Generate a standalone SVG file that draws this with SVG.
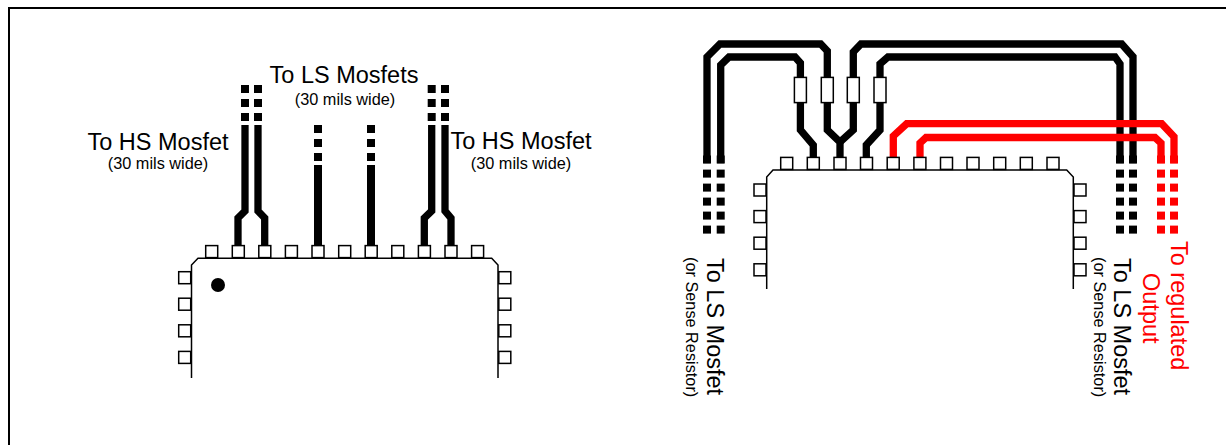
<svg xmlns="http://www.w3.org/2000/svg" width="1226" height="445" viewBox="0 0 1226 445">
<style>
text{font-family:"Liberation Sans",Arial,sans-serif;fill:#000}
.big{font-size:23.5px}
.small{font-size:16.3px}
.mid{text-anchor:middle}
.red{fill:#f00}
.pad{fill:#fff;stroke:#000;stroke-width:1.5}
.body{fill:none;stroke:#000;stroke-width:1.5}
.tr{fill:none;stroke:#000;stroke-width:7.3}
.rd{fill:none;stroke:#f00;stroke-width:7.3}
.res{fill:#fff;stroke:#000;stroke-width:1.5}
</style>
<defs>
<rect id="p" class="pad" x="-6" y="-6" width="12" height="12"/>
<rect id="q" x="-4" y="-4" width="8" height="8"/>
<rect id="r" x="-4" y="-4" width="8" height="8" fill="#f00"/>
<rect id="rs" class="res" x="-6" y="-12.6" width="12" height="25.2"/>
</defs>
<path id="frame" d="M9 445V8H1226" fill="none" stroke="#000" stroke-width="2"/>
<g id="connectors">
<path class="tr" d="M245 125V211L238 218V245"/>
<path class="tr" d="M258 125V211L264.7 218V245"/>
<path class="tr" d="M431.7 125V211L424.3 218V245"/>
<path class="tr" d="M445 125V211L451 218V245"/>
<path class="tr" style="stroke-width:8" d="M318 165V245"/>
<path class="tr" style="stroke-width:8" d="M371 165V245"/>
<path class="tr" d="M707 163.3V57L720 44H820.7L827.3 51V77"/>
<path class="tr" d="M720.7 163.3V65L729 57H795L800.4 63V77"/>
<path class="tr" d="M800.4 103V130L813.3 145V157"/>
<path class="tr" d="M827.3 103V130L840 142V157"/>
<path class="tr" d="M853.3 103V130L840 142"/>
<path class="tr" d="M880 103V130L866.3 145V157"/>
<path class="tr" d="M853.3 77V52L861 44H1121.7L1133 56.7V163.3"/>
<path class="tr" d="M880 77V64L888 57H1115L1120 64V163.3"/>
<path class="rd" d="M893.3 157V136L906.7 123.7H1161.7L1174 136.7V163.3"/>
<path class="rd" d="M920 157V143L926 137.5H1155L1161 143V163.3"/>
</g>
<g id="chip-left">
<path class="body" d="M191.5 378V265L198 258.3H491.7L498 265V378"/>
<g id="chip-left-pads">
<use href="#p" x="211.7" y="251.6"/><use href="#p" x="238.3" y="251.6"/><use href="#p" x="264.8" y="251.6"/><use href="#p" x="291.4" y="251.6"/><use href="#p" x="318" y="251.6"/><use href="#p" x="344.7" y="251.6"/><use href="#p" x="371.2" y="251.6"/><use href="#p" x="397.8" y="251.6"/><use href="#p" x="424.4" y="251.6"/><use href="#p" x="451" y="251.6"/><use href="#p" x="477.6" y="251.6"/>
<use href="#p" x="184.7" y="277.7"/><use href="#p" x="184.7" y="304.2"/><use href="#p" x="184.7" y="330.8"/><use href="#p" x="184.7" y="357.4"/>
<use href="#p" x="504.8" y="277.7"/><use href="#p" x="504.8" y="304.2"/><use href="#p" x="504.8" y="330.8"/><use href="#p" x="504.8" y="357.4"/>
</g>
<circle cx="218" cy="285" r="7"/>
</g>
<g id="vias-left">
<use href="#q" x="245" y="89"/><use href="#q" x="245" y="103"/><use href="#q" x="245" y="117"/>
<use href="#q" x="258" y="89"/><use href="#q" x="258" y="103"/><use href="#q" x="258" y="117"/>
<use href="#q" x="431.7" y="89"/><use href="#q" x="431.7" y="103"/><use href="#q" x="431.7" y="117"/>
<use href="#q" x="445" y="89"/><use href="#q" x="445" y="103"/><use href="#q" x="445" y="117"/>
<use href="#q" x="318" y="129"/><use href="#q" x="318" y="143"/><use href="#q" x="318" y="157"/>
<use href="#q" x="371" y="129"/><use href="#q" x="371" y="143"/><use href="#q" x="371" y="157"/>
</g>
<g id="chip-right">
<path class="body" d="M766.7 289V177L773 170H1066.7L1073.3 177V289"/>
<g id="chip-right-pads">
<use href="#p" x="786.7" y="163.4"/><use href="#p" x="813.3" y="163.4"/><use href="#p" x="840" y="163.4"/><use href="#p" x="866.5" y="163.4"/><use href="#p" x="893.2" y="163.4"/><use href="#p" x="919.9" y="163.4"/><use href="#p" x="946.5" y="163.4"/><use href="#p" x="973" y="163.4"/><use href="#p" x="999.7" y="163.4"/><use href="#p" x="1026.3" y="163.4"/><use href="#p" x="1053" y="163.4"/>
<use href="#p" x="760" y="190"/><use href="#p" x="760" y="216.6"/><use href="#p" x="760" y="243.2"/><use href="#p" x="760" y="269.8"/>
<use href="#p" x="1080" y="190"/><use href="#p" x="1080" y="216.6"/><use href="#p" x="1080" y="243.2"/><use href="#p" x="1080" y="269.8"/>
</g>
</g>
<g id="resistors">
<use href="#rs" x="800.4" y="90"/><use href="#rs" x="827.3" y="90"/><use href="#rs" x="853.3" y="90"/><use href="#rs" x="880" y="90"/>
</g>
<g id="vias-right">
<use href="#q" x="707" y="159.5"/><use href="#q" x="707" y="173.6"/><use href="#q" x="707" y="187.6"/><use href="#q" x="707" y="201.6"/><use href="#q" x="707" y="215.6"/><use href="#q" x="707" y="229.6"/>
<use href="#q" x="720.7" y="159.5"/><use href="#q" x="720.7" y="173.6"/><use href="#q" x="720.7" y="187.6"/><use href="#q" x="720.7" y="201.6"/><use href="#q" x="720.7" y="215.6"/><use href="#q" x="720.7" y="229.6"/>
<use href="#q" x="1120" y="159.5"/><use href="#q" x="1120" y="173.6"/><use href="#q" x="1120" y="187.6"/><use href="#q" x="1120" y="201.6"/><use href="#q" x="1120" y="215.6"/><use href="#q" x="1120" y="229.6"/>
<use href="#q" x="1133" y="159.5"/><use href="#q" x="1133" y="173.6"/><use href="#q" x="1133" y="187.6"/><use href="#q" x="1133" y="201.6"/><use href="#q" x="1133" y="215.6"/><use href="#q" x="1133" y="229.6"/>
<use href="#r" x="1161" y="159.5"/><use href="#r" x="1161" y="173.6"/><use href="#r" x="1161" y="187.6"/><use href="#r" x="1161" y="201.6"/><use href="#r" x="1161" y="215.6"/><use href="#r" x="1161" y="229.6"/>
<use href="#r" x="1174" y="159.5"/><use href="#r" x="1174" y="173.6"/><use href="#r" x="1174" y="187.6"/><use href="#r" x="1174" y="201.6"/><use href="#r" x="1174" y="215.6"/><use href="#r" x="1174" y="229.6"/>
</g>
<g id="labels">
<text class="big mid" x="344" y="83">To LS Mosfets</text>
<text class="small mid" x="345" y="105">(30 mils wide)</text>
<text class="big mid" x="158" y="149.5">To HS Mosfet</text>
<text class="small mid" x="158" y="169">(30 mils wide)</text>
<text class="big mid" x="521" y="149">To HS Mosfet</text>
<text class="small mid" x="521" y="169">(30 mils wide)</text>
<text class="big" transform="translate(707 258) rotate(90)">To LS Mosfet</text>
<text class="small" transform="translate(686 257) rotate(90)">(or Sense Resistor)</text>
<text class="big" transform="translate(1114 258) rotate(90)">To LS Mosfet</text>
<text class="small" transform="translate(1094 257) rotate(90)">(or Sense Resistor)</text>
<text class="big red" transform="translate(1171 241) rotate(90)">To regulated</text>
<text class="big red" transform="translate(1143 273) rotate(90)">Output</text>
</g>
</svg>
